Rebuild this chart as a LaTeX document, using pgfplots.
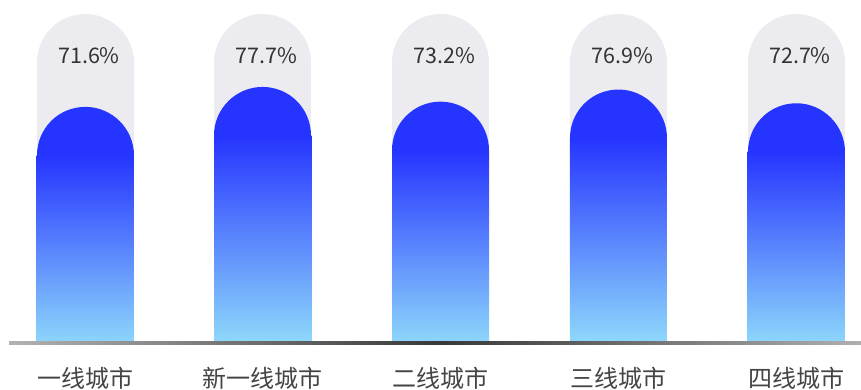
\documentclass[border=0pt]{standalone}
\usepackage{pgfplots}
\pgfplotsset{compat=1.18}
\usepackage{fontspec}
\setmainfont{Noto Sans CJK SC}
\definecolor{track}{HTML}{ECECF0}
\definecolor{bartop}{HTML}{2634FF}
\definecolor{barbot}{HTML}{A6FEFA}
\definecolor{lbl}{HTML}{333333}
\definecolor{catlbl}{HTML}{444444}
\pgfplotsset{gradbar/.style={ybar, bar width=97pt, draw=none, top color=bartop, bottom color=barbot, yshift=-48.5pt}}
\begin{document}
\begin{tikzpicture}
\begin{axis}[
  name=ax,
  at={(9pt,48pt)}, anchor=south west, scale only axis,
  width=852pt, height=327pt,
  xmin=-0.4276, xmax=4.3657, ymin=0, ymax=100,
  hide y axis,
  axis x line*=bottom,
  x axis line style={draw=none},
  xtick={0,1,2,3,4},
  xticklabels={一线城市,新一线城市,二线城市,三线城市,四线城市},
  major tick length=0pt,
  xticklabel style={anchor=base, yshift=-46pt, inner sep=0pt, font=\fontsize{24}{24}\selectfont, text=catlbl},
]
% track (100%)
\addplot[ycomb, draw=track, line width=97pt, line cap=round, yshift=-48.5pt, mark=none]
  coordinates {(0,100) (1,100) (2,100) (3,100) (4,100)};
% rounded tops of the bars
\addplot[ycomb, draw=bartop, line width=97pt, line cap=round, yshift=-48.5pt, mark=none]
  coordinates {(0,71.6) (1,77.7) (2,73.2) (3,76.9) (4,72.7)};
% gradient bodies
\addplot[gradbar] coordinates {(0,71.6)};
\addplot[gradbar] coordinates {(1,77.7)};
\addplot[gradbar] coordinates {(2,73.2)};
\addplot[gradbar] coordinates {(3,76.9)};
\addplot[gradbar] coordinates {(4,72.7)};
% value labels
\addplot[draw=none, mark=none, nodes near coords, point meta=explicit symbolic,
  every node near coord/.append style={anchor=base, xshift=4pt, yshift=-49pt, inner sep=0pt, font=\fontsize{21.5}{21.5}\selectfont, text=lbl}]
  coordinates {(0,100) [71.6\%] (1,100) [77.7\%] (2,100) [73.2\%] (3,100) [76.9\%] (4,100) [72.7\%]};
\end{axis}
\shade[left color=black!30, right color=black!30, middle color=black!78]
  ([yshift=-3pt]ax.south west) rectangle ([xshift=12pt]ax.south east);
\pgfresetboundingbox
\path[use as bounding box] (0,0) rectangle (861pt,389pt);
\end{tikzpicture}
\end{document}
